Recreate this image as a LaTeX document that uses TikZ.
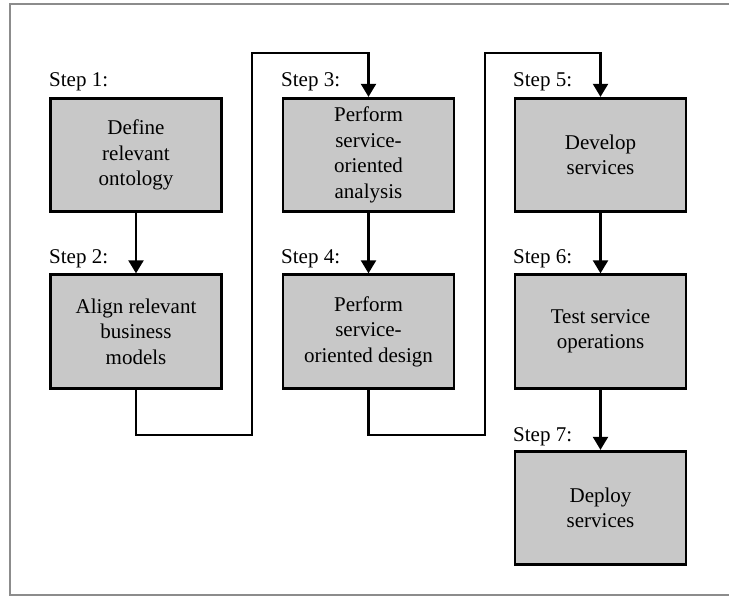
\documentclass[tikz,border=0pt]{standalone}
\usepackage{fontspec}
\setmainfont{Liberation Serif}
\usetikzlibrary{arrows.meta}
\definecolor{boxgray}{HTML}{C8C8C8}
\definecolor{framegray}{HTML}{8C8C8C}
\tikzset{
  stepbox/.style={draw=black, fill=boxgray, line width=2.8pt, minimum width=171pt, minimum height=113.5pt,
    align=center, inner sep=0pt, font=\fontsize{21}{25.5}\selectfont},
  steplabel/.style={anchor=base west, inner sep=0pt, font=\fontsize{21}{25.5}\selectfont},
  conn/.style={draw=black, line width=2.2pt},
  arr/.style={conn, -{Triangle[width=15pt,length=13pt]}},
}
\begin{document}
\begin{tikzpicture}[x=1pt,y=-1pt]
\useasboundingbox (0,0) rectangle (729,596);
% frame (top, left, bottom)
\draw[framegray, line width=2.4pt] (729,4) -- (10,4) -- (10,595) -- (729,595);

% boxes
\node[stepbox] (b1) at (136,155) {Define\\relevant\\ontology};
\node[stepbox] (b2) at (136,331.5) {Align relevant\\business\\models};
\node[stepbox] (b3) at (368.5,155) {Perform\\service-\\oriented\\analysis};
\node[stepbox] (b4) at (368.5,331.5) {Perform\\service-\\oriented design};
\node[stepbox] (b5) at (600.5,155) {Develop\\services};
\node[stepbox] (b6) at (600.5,331.5) {Test service\\operations};
\node[stepbox] (b7) at (600.5,508) {Deploy\\services};

% labels
\node[steplabel] (l1) at (49,87) {Step 1:};
\node[steplabel] (l2) at (49,264) {Step 2:};
\node[steplabel] (l3) at (281,87) {Step 3:};
\node[steplabel] (l4) at (281,264) {Step 4:};
\node[steplabel] (l5) at (513,87) {Step 5:};
\node[steplabel] (l6) at (513,264) {Step 6:};
\node[steplabel] (l7) at (513,441) {Step 7:};

% connectors
\coordinate (c1a) at (252,435);
\coordinate (c1b) at (252,53);
\coordinate (c2a) at (485,435);
\coordinate (c2b) at (485,53);

\draw[arr] (b1.south) -- (b2.north);
\draw[arr] (b3.south) -- (b4.north);
\draw[arr] (b5.south) -- (b6.north);
\draw[arr] (b6.south) -- (b7.north);
\draw[arr] (b2.south) |- (c1a) -- (c1b) -| (b3.north);
\draw[arr] (b4.south) |- (c2a) -- (c2b) -| (b5.north);
\end{tikzpicture}
\end{document}
